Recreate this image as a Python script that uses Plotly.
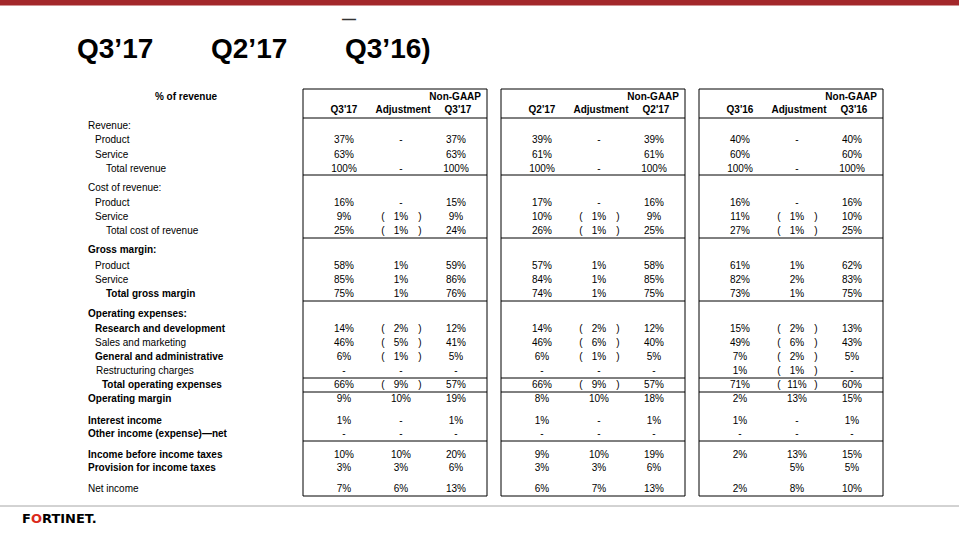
import plotly.graph_objects as go

# ── data ──────────────────────────────────────────────────────────────────
TITLE_QUARTERS = ["Q3\u201917", "Q2\u201917", "Q3\u201916)"]
PERIODS = ["Q3'17", "Q2'17", "Q3'16"]

ROW_LABELS = [
    "Revenue:", "Product", "Service", "Total revenue",
    "Cost of revenue:", "Product", "Service", "Total cost of revenue",
    "Gross margin:", "Product", "Service", "Total gross margin",
    "Operating expenses:", "Research and development", "Sales and marketing",
    "General and administrative", "Restructuring charges", "Total operating expenses",
    "Operating margin", "Interest income", "Other income (expense)\u2014net",
    "Income before income taxes", "Provision for income taxes", "Net income",
]

GAAP_Q317 = ["", "37%", "63%", "100%", "", "16%", "9%", "25%", "", "58%", "85%", "75%",
             "", "14%", "46%", "6%", "-", "66%", "9%", "1%", "-", "10%", "3%", "7%"]
ADJ_Q317 = ["", "-", "", "-", "", "-", "(1%)", "(1%)", "", "1%", "1%", "1%",
            "", "(2%)", "(5%)", "(1%)", "-", "(9%)", "10%", "-", "-", "10%", "3%", "6%"]
NONGAAP_Q317 = ["", "37%", "63%", "100%", "", "15%", "9%", "24%", "", "59%", "86%", "76%",
                "", "12%", "41%", "5%", "-", "57%", "19%", "1%", "-", "20%", "6%", "13%"]

GAAP_Q217 = ["", "39%", "61%", "100%", "", "17%", "10%", "26%", "", "57%", "84%", "74%",
             "", "14%", "46%", "6%", "-", "66%", "8%", "1%", "-", "9%", "3%", "6%"]
ADJ_Q217 = ["", "-", "", "-", "", "-", "(1%)", "(1%)", "", "1%", "1%", "1%",
            "", "(2%)", "(6%)", "(1%)", "-", "(9%)", "10%", "-", "-", "10%", "3%", "7%"]
NONGAAP_Q217 = ["", "39%", "61%", "100%", "", "16%", "9%", "25%", "", "58%", "85%", "75%",
                "", "12%", "40%", "5%", "-", "57%", "18%", "1%", "-", "19%", "6%", "13%"]

GAAP_Q316 = ["", "40%", "60%", "100%", "", "16%", "11%", "27%", "", "61%", "82%", "73%",
             "", "15%", "49%", "7%", "1%", "71%", "2%", "1%", "-", "2%", "", "2%"]
ADJ_Q316 = ["", "-", "", "-", "", "-", "(1%)", "(1%)", "", "1%", "2%", "1%",
            "", "(2%)", "(6%)", "(2%)", "(1%)", "(11%)", "13%", "-", "-", "13%", "5%", "8%"]
NONGAAP_Q316 = ["", "40%", "60%", "100%", "", "16%", "10%", "25%", "", "62%", "83%", "75%",
                "", "13%", "43%", "5%", "-", "60%", "15%", "1%", "-", "15%", "5%", "10%"]

PANELS = [
    (GAAP_Q317, ADJ_Q317, NONGAAP_Q317),
    (GAAP_Q217, ADJ_Q217, NONGAAP_Q217),
    (GAAP_Q316, ADJ_Q316, NONGAAP_Q316),
]

# ── layout (pixel coordinates on a 959x540 canvas) ────────────────────────
ROW_Y = [126, 140, 155, 169, 188, 203, 217, 231, 250, 266, 280, 294,
         314, 329, 343, 357, 371, 385, 399, 421, 434, 455, 468, 489]
ROW_X = [88, 95, 95, 106, 88, 95, 95, 106, 88, 95, 95, 106,
         88, 95, 95, 95, 96, 102, 88, 88, 88, 88, 88, 88]
BOLD_ROWS = {8, 11, 12, 13, 15, 17, 18, 19, 20, 21, 22}
RULES_Y = [118, 175, 238, 301, 378, 392, 441]
PANEL_LEFT, PANEL_RIGHT, PANEL_STEP = 303, 487, 198
PANEL_TOP, PANEL_BOTTOM = 89, 496
COL_GAAP, COL_ADJ, COL_NG = 344, 401, 456

FONT = "Arial, Liberation Sans, sans-serif"
RED = "#A3282B"

fig = go.Figure()


def text_trace(xs, ys, texts, size=10, pos="middle center", color="black", family=FONT):
    fig.add_trace(go.Scatter(x=xs, y=ys, text=texts, mode="text", textposition=pos,
                             textfont=dict(family=family, size=size, color=color),
                             hoverinfo="skip", showlegend=False))


# row labels
labels = [f"<b>{t}</b>" if i in BOLD_ROWS else t for i, t in enumerate(ROW_LABELS)]
text_trace(ROW_X, ROW_Y, labels, pos="middle right")
text_trace([186], [97], ["<b>% of revenue</b>"])

shapes = []
for p, (gaap, adj, ng) in enumerate(PANELS):
    dx = p * PANEL_STEP
    # headers ("middle left" = text sits left of the point, i.e. right-aligned)
    text_trace([481 + dx], [97], ["<b>Non-GAAP</b>"], pos="middle left")
    text_trace([COL_GAAP + dx, COL_ADJ + 2 + dx, COL_NG + 2 + dx], [110, 110, 110],
               [f"<b>{PERIODS[p]}</b>", "<b>Adjustment</b>", f"<b>{PERIODS[p]}</b>"])
    # values
    text_trace([COL_GAAP + dx] * len(ROW_Y), ROW_Y, gaap)
    text_trace([COL_NG + dx] * len(ROW_Y), ROW_Y, ng)
    adj_mid, paren_y = [], []
    for v, y in zip(adj, ROW_Y):
        if v.startswith("("):
            adj_mid.append(v.strip("()"))
            paren_y.append(y)
        else:
            adj_mid.append(v)
    text_trace([COL_ADJ + dx] * len(ROW_Y), ROW_Y, adj_mid)
    text_trace([383 + dx] * len(paren_y), paren_y, ["("] * len(paren_y))
    text_trace([420 + dx] * len(paren_y), paren_y, [")"] * len(paren_y))
    # panel box and rules
    x0, x1 = PANEL_LEFT + dx, PANEL_RIGHT + dx
    shapes.append(dict(type="rect", x0=x0, x1=x1, y0=PANEL_TOP, y1=PANEL_BOTTOM,
                       line=dict(color="black", width=1)))
    for y in RULES_Y:
        shapes.append(dict(type="line", x0=x0, x1=x1, y0=y, y1=y,
                           line=dict(color="black", width=1)))

# title
title_x = [77, 211, 345]
text_trace(title_x, [51] * 3, [f"<b>{q}</b>" for q in TITLE_QUARTERS], size=28, pos="middle right")
text_trace([349], [20], ["<b>\u2014</b>"], size=14, pos="middle center", color="#333333")

# logo
text_trace([22], [520], ["<b>F<span style='color:#DA291C'>O</span>RTINET.</b>"],
           size=13, pos="middle right", family="DejaVu Sans, sans-serif")

# decorations
shapes.append(dict(type="rect", xref="paper", x0=0, x1=1, y0=0, y1=5.5,
                   fillcolor=RED, line=dict(width=0)))
shapes.append(dict(type="line", xref="paper", x0=0, x1=1, y0=506, y1=506,
                   line=dict(color="#A6A6A6", width=1)))

fig.update_layout(
    width=959, height=540, margin=dict(l=0, r=0, t=0, b=0),
    plot_bgcolor="white", paper_bgcolor="white", shapes=shapes,
    xaxis=dict(range=[0, 959], visible=False, fixedrange=True),
    yaxis=dict(range=[540, 0], visible=False, fixedrange=True),
)
fig.write_html("out.html", config={"displayModeBar": False},
               post_script="document.body.style.margin = '0';")
